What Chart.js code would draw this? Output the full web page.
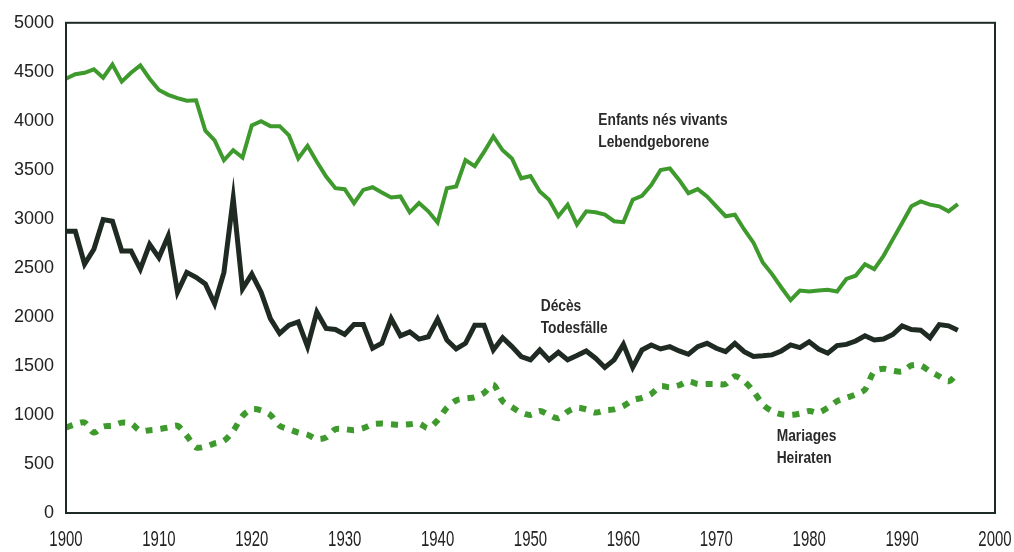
<!DOCTYPE html>
<html>
<head>
<meta charset="utf-8">
<script src="https://cdn.jsdelivr.net/npm/chart.js@4"></script>
<style>
  html,body{margin:0;padding:0;background:#fff;}
  #c{display:block;}
</style>
</head>
<body>
<canvas id="c" width="1014" height="552"></canvas>
<script>
// --- Dades ---
const years = [];
for (let y = 1900; y <= 1996; y++) years.push(y);

const births = [
  4430,4475,4490,4525,4440,4575,4400,4490,4565,4430,
  4315,4265,4232,4205,4210,3900,3800,3598,3700,3626,
  3952,3996,3946,3946,3851,3616,3745,3582,3431,3313,
  3303,3161,3296,3323,3269,3219,3229,3067,3161,3077,
  2962,3313,3330,3599,3538,3683,3841,3700,3616,3414,
  3438,3280,3195,3027,3145,2943,3077,3067,3043,2976,
  2966,3195,3236,3346,3498,3515,3397,3262,3303,3229,
  3128,3027,3043,2892,2757,2555,2437,2300,2170,2269,
  2259,2270,2276,2259,2387,2420,2538,2488,2623,2791,
  2959,3128,3178,3145,3128,3077,3150
];

const deaths = [
  2875,2875,2538,2690,2993,2976,2673,2673,2488,2740,
  2605,2825,2252,2454,2404,2336,2134,2454,3210,2286,
  2437,2252,1983,1831,1915,1949,1697,2050,1882,1872,
  1821,1922,1922,1680,1731,1983,1808,1848,1774,1798,
  1976,1764,1673,1731,1915,1915,1663,1787,1697,1596,
  1562,1663,1562,1640,1562,1606,1653,1579,1485,1562,
  1720,1485,1663,1714,1673,1697,1653,1619,1697,1731,
  1680,1646,1731,1646,1596,1603,1613,1653,1714,1687,
  1747,1673,1630,1707,1720,1754,1808,1764,1774,1821,
  1909,1872,1865,1787,1922,1909,1865
];

const marriages = [
  872,905,922,821,882,889,922,912,838,845,
  855,872,889,788,670,677,710,737,838,990,
  1057,1047,1000,889,855,821,798,754,771,855,
  855,845,865,905,912,905,899,905,912,865,
  946,1074,1148,1168,1181,1225,1309,1141,1081,1024,
  1000,1040,1000,966,1034,1074,1057,1024,1047,1057,
  1091,1150,1175,1215,1293,1282,1303,1343,1316,1316,
  1316,1316,1394,1343,1242,1108,1040,1007,1000,1013,
  1040,1024,1074,1141,1175,1209,1259,1444,1471,1451,
  1444,1505,1505,1444,1394,1343,1427
];

const xTicks = [1900,1910,1920,1930,1940,1950,1960,1970,1980,1990,2000];
const yTicks = [0,500,1000,1500,2000,2500,3000,3500,4000,4500,5000];

const seriesLabels = [
  ['Enfants nés vivants','Lebendgeborene'],
  ['Décès','Todesfälle'],
  ['Mariages','Heiraten']
];
// posicions de les etiquetes (any, valor)
const labelAnchors = [[1957.3, 4000],[1951.1, 2110],[1976.5, 775]];

// --- Colors ---
const GREEN = '#3f9a2e';
const DARK  = '#1e2a22';
const INK   = '#222';

const toXY = (vals) => vals.map((v,i)=>({x: years[i], y: v}));

// marc del gràfic
const framePlugin = {
  id:'frame',
  afterDatasetsDraw(chart){
    const {ctx, chartArea:a} = chart;
    ctx.save();
    ctx.strokeStyle = '#1d2b26';
    ctx.lineWidth = 2;
    ctx.strokeRect(a.left, a.top, a.right-a.left, a.bottom-a.top);
    ctx.restore();
  }
};

// etiquetes X estretes + textos de sèries
const textPlugin = {
  id:'texts',
  afterDraw(chart){
    const {ctx, scales:{x, y}} = chart;
    ctx.save();
    ctx.fillStyle = INK;
    ctx.textBaseline = 'middle';
    ctx.textAlign = 'center';
    ctx.font = '22px "Liberation Sans", Arial, sans-serif';
    xTicks.forEach(t=>{
      const px = x.getPixelForValue(t);
      ctx.save();
      ctx.translate(px, 540);
      ctx.scale(0.68, 1);
      ctx.fillText(String(t), 0, 0);
      ctx.restore();
    });

    ctx.textAlign = 'left';
    ctx.fillStyle = '#2a2a2a';
    ctx.font = 'bold 16px "Liberation Sans", Arial, sans-serif';
    seriesLabels.forEach((lines, i)=>{
      const px = x.getPixelForValue(labelAnchors[i][0]);
      const py = y.getPixelForValue(labelAnchors[i][1]);
      lines.forEach((txt, j)=>{
        ctx.save();
        ctx.translate(px, py + j*22);
        ctx.scale(0.86, 1);
        ctx.fillText(txt, 0, 0);
        ctx.restore();
      });
    });
    ctx.restore();
  }
};

const bgPlugin = {
  id:'bg',
  beforeDraw(chart){
    const {ctx, width, height} = chart;
    ctx.save(); ctx.fillStyle = '#fff'; ctx.fillRect(0,0,width,height); ctx.restore();
  }
};

new Chart(document.getElementById('c'), {
  type: 'line',
  data: {
    datasets: [
      { label:'Enfants nés vivants', data: toXY(births), borderColor: GREEN, borderWidth: 4, pointRadius: 0, tension: 0, borderJoinStyle:'miter' },
      { label:'Décès', data: toXY(deaths), borderColor: DARK, borderWidth: 5, pointRadius: 0, tension: 0, borderJoinStyle:'miter' },
      { label:'Mariages', data: toXY(marriages), borderColor: GREEN, borderWidth: 6, borderDash:[7,8], pointRadius: 0, tension: 0.3 }
    ]
  },
  options: {
    responsive: false,
    devicePixelRatio: 1,
    animation: false,
    layout: { padding: { top: 18, right: 19, left: 0, bottom: 0 } },
    plugins: { legend:{ display:false }, tooltip:{ enabled:false } },
    scales: {
      x: {
        type:'linear', min:1900, max:2000,
        grid:{ display:false, drawTicks:false },
        border:{ display:false },
        ticks:{ display:false, stepSize:10 },
        afterFit: (s)=>{ s.height = 39; }
      },
      y: {
        min:0, max:5000,
        grid:{ display:false, drawTicks:false },
        border:{ display:false },
        ticks:{ stepSize:500, padding:12, color: INK, font:{ family:'"Liberation Sans", Arial, sans-serif', size:18 },
                callback:(v)=> yTicks.includes(v) ? String(v) : '' },
        afterFit: (s)=>{ s.width = 66; }
      }
    }
  },
  plugins: [bgPlugin, framePlugin, textPlugin]
});
</script>
</body>
</html>
